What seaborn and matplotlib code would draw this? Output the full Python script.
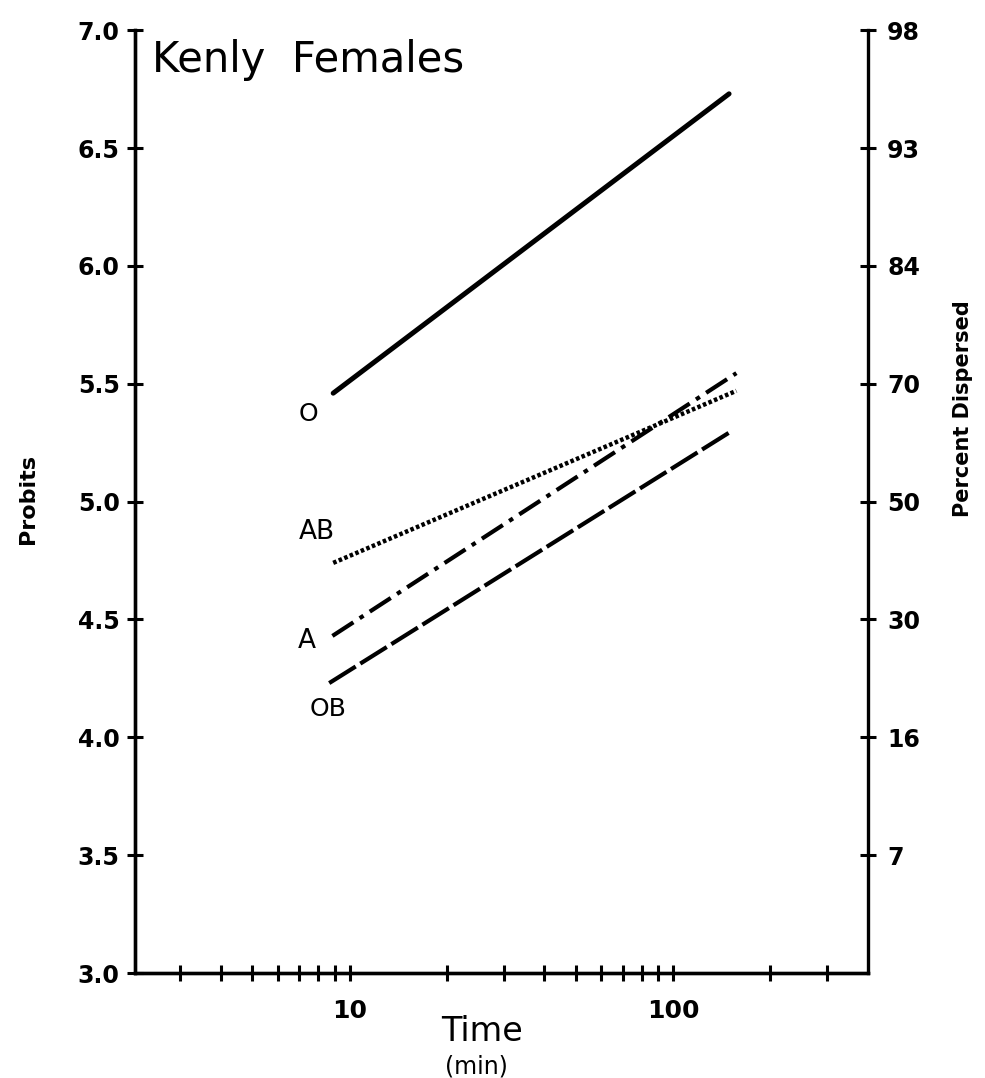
import pandas as pd
import numpy as np
import matplotlib
matplotlib.use('Agg')
import matplotlib.pyplot as plt
import seaborn as sns

# probit lines (start / end of each fitted line)
groups = ['O', 'AB', 'A', 'OB']
time_start = [8.9, 8.9, 8.85, 8.65]
time_end = [149, 157, 157, 150]
probit_start = [5.46, 4.74, 4.43, 4.23]
probit_end = [6.73, 5.47, 5.545, 5.295]

# where the group letters sit
label_time = [7.45, 7.9, 7.4, 8.6]
label_probit = [5.37, 4.87, 4.41, 4.12]

probit_ticks = [3.0, 3.5, 4.0, 4.5, 5.0, 5.5, 6.0, 6.5, 7.0]
probit_labels = ['3.0', '3.5', '4.0', '4.5', '5.0', '5.5', '6.0', '6.5', '7.0']
percent_ticks = [7.0, 6.5, 6.0, 5.5, 5.0, 4.5, 4.0, 3.5]
percent_labels = ['98', '93', '84', '70', '50', '30', '16', '7']
time_major = [10, 100]
time_major_labels = ['10', '100']
time_minor = [3, 4, 5, 6, 7, 8, 9, 20, 30, 40, 50, 60, 70, 80, 90, 200, 300]

df = pd.DataFrame({
    'group': groups * 2,
    'time': time_start + time_end,
    'probit': probit_start + probit_end,
})

sns.set_style('ticks')
plt.rcParams['font.family'] = ['DejaVu Sans']
plt.rcParams['text.color'] = 'black'
plt.rcParams['xtick.color'] = 'black'
plt.rcParams['ytick.color'] = 'black'
plt.rcParams['axes.labelcolor'] = 'black'

fig = plt.figure(figsize=(9.85, 10.78), dpi=100)
ax = fig.add_axes([0.137, 0.0974, 0.744, 0.8746])

styles = {
    'O': dict(linestyle='-', linewidth=3.6),
    'AB': dict(linestyle=(0, (0.8, 0.55)), linewidth=3.2),
    'A': dict(linestyle=(0, (6, 1.8, 1.1, 1.8)), linewidth=3.0),
    'OB': dict(linestyle=(0, (7.5, 1.3)), linewidth=3.0),
}
for g in groups:
    sns.lineplot(data=df[df.group == g], x='time', y='probit', color='black',
                 ax=ax, errorbar=None, **styles[g])

narrow = ['Liberation Sans Narrow', 'DejaVu Sans']
for g, tx, ty in zip(groups, label_time, label_probit):
    if g in ('O', 'OB'):
        ax.text(tx, ty, g, ha='center', va='center', fontsize=18, family=['DejaVu Sans'])
    else:
        ax.text(tx, ty, g, ha='center', va='center', fontsize=19, family=narrow)

ax.set_xscale('log')
ax.set_xlim(2.17, 400)
ax.set_ylim(3.0, 7.0)
ax.set_xticks(time_major)
ax.set_xticklabels(time_major_labels, fontsize=18, fontweight='semibold')
ax.set_xticks(time_minor, minor=True)
ax.set_xticklabels([], minor=True)
ax.set_yticks(probit_ticks)
ax.set_yticklabels(probit_labels, fontsize=17, fontweight='bold')
ax.set_xlabel('')
ax.set_ylabel('')

ax.tick_params(axis='both', which='both', direction='inout', length=12, width=2.2, color='black')
ax.tick_params(axis='x', which='both', pad=13)
ax.tick_params(axis='y', pad=5)

ax2 = ax.twinx()
ax2.set_ylim(3.0, 7.0)
ax2.set_yticks(percent_ticks)
ax2.set_yticklabels(percent_labels, fontsize=17, fontweight='bold')
ax2.tick_params(axis='y', direction='inout', length=12, width=2.2, pad=8, color='black')

for a in (ax, ax2):
    a.spines['top'].set_visible(False)
    for s in ('left', 'right', 'bottom'):
        a.spines[s].set_linewidth(2.4)
        a.spines[s].set_color('black')
ax.spines['right'].set_visible(False)

ax.text(0.023, 0.968, 'Kenly  Females', transform=ax.transAxes, ha='left', va='center',
        fontsize=30)

fig.text(0.028, 0.537, 'Probits', rotation=90, ha='center', va='center',
         fontsize=16, fontweight='semibold', family=narrow)
fig.text(0.978, 0.621, 'Percent Dispersed', rotation=90, ha='center', va='center',
         fontsize=15, fontweight='semibold', family=narrow)
fig.text(0.489, 0.0427, 'Time', ha='center', va='center', fontsize=24)
fig.text(0.484, 0.0110, '(min)', ha='center', va='center', fontsize=17)

fig.savefig('out.png', dpi=100, facecolor='white')
